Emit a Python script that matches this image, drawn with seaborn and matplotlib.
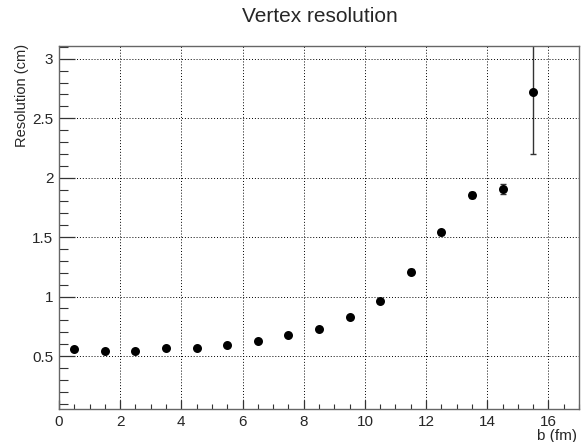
import matplotlib
matplotlib.use("Agg")
import matplotlib.pyplot as plt
import seaborn as sns
import pandas as pd
from matplotlib.ticker import MultipleLocator, FixedLocator

b_fm = [0.5, 1.5, 2.5, 3.5, 4.5, 5.5, 6.5, 7.5, 8.5, 9.5, 10.5, 11.5, 12.5, 13.5, 14.5, 15.5]
resolution = [0.56, 0.54, 0.545, 0.57, 0.57, 0.59, 0.625, 0.675, 0.73, 0.825, 0.96, 1.21, 1.54, 1.855, 1.905, 2.72]
res_err = [0.008, 0.007, 0.007, 0.008, 0.008, 0.008, 0.009, 0.01, 0.011, 0.012, 0.014, 0.018, 0.02, 0.025, 0.045, 0.52]
ytick_vals = [0.5, 1, 1.5, 2, 2.5, 3]
ytick_labels = ["0.5", "1", "1.5", "2", "2.5", "3"]
xtick_vals = [0, 2, 4, 6, 8, 10, 12, 14, 16]

df = pd.DataFrame({"b": b_fm, "res": resolution, "err": res_err})

sns.set_style("ticks")
plt.rcParams["font.family"] = ["Liberation Sans", "DejaVu Sans"]

fig = plt.figure(figsize=(5.81, 4.42), dpi=100)
ax = fig.add_axes([59 / 581, 1 - 409 / 442, (579 - 59) / 581, (409 - 46) / 442])

ax.errorbar(df["b"], df["res"], yerr=df["err"], fmt="none", ecolor="#333333",
            elinewidth=1.0, capsize=2, capthick=1.0, zorder=2)
sns.scatterplot(data=df, x="b", y="res", ax=ax, color="black", s=42,
                edgecolor="black", linewidth=0, zorder=3)

ax.set_xlim(0, 17.0)
ax.set_ylim(0.055, 3.107)

ax.xaxis.set_major_locator(FixedLocator(xtick_vals))
ax.xaxis.set_minor_locator(MultipleLocator(0.5))
ax.set_yticks(ytick_vals)
ax.set_yticklabels(ytick_labels)
ax.yaxis.set_minor_locator(MultipleLocator(0.1))

ax.grid(True, which="major", color="black", linestyle=(0, (1, 2)), linewidth=0.7)
ax.set_axisbelow(True)

for s in ax.spines.values():
    s.set_color("#666666")
    s.set_linewidth(1.0)

ax.tick_params(axis="x", which="major", direction="in", length=6.5, width=0.9,
               color="#333333", labelsize=11, pad=4, top=False)
ax.tick_params(axis="x", which="minor", direction="in", length=3.6, width=0.8,
               color="#333333", top=False)
ax.tick_params(axis="y", which="major", direction="in", length=11.5, width=0.9,
               color="#333333", labelsize=11, pad=4, right=False)
ax.tick_params(axis="y", which="minor", direction="in", length=6.5, width=0.8,
               color="#333333", right=False)

ax.set_xlabel("")
ax.set_ylabel("")
fig.text(577 / 581, 1 - 436 / 442, "b (fm)", ha="right", va="center", fontsize=11)
fig.text(22 / 581, 1 - 44 / 442, "Resolution (cm)", ha="center", va="top",
         rotation=90, fontsize=10.5)
fig.text(320 / 581, 1 - 17 / 442, "Vertex resolution", ha="center", va="center",
         fontsize=15)

fig.savefig("out.png", dpi=100)
